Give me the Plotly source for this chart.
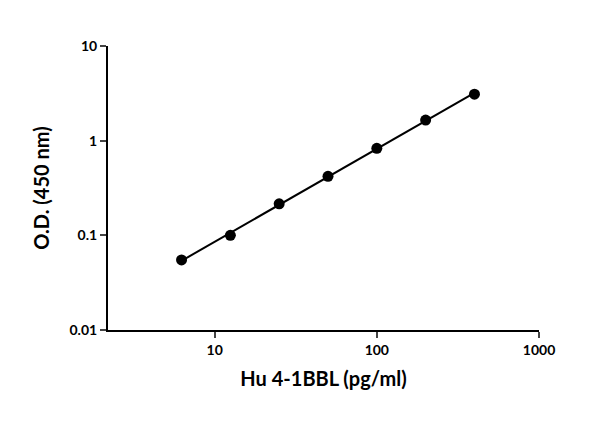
import numpy as np
import plotly.graph_objects as go

conc = [6.25, 12.5, 25, 50, 100, 200, 400]
od = [0.055, 0.10, 0.215, 0.42, 0.83, 1.65, 3.1]
x_ticks = [10, 100, 1000]
y_ticks = [0.01, 0.1, 1, 10]

# fitted straight line on log-log scale
k, b = np.polyfit(np.log10(conc), np.log10(od), 1)
fit_x = np.array([conc[0], conc[-1]])
fit_y = 10 ** (k * np.log10(fit_x) + b)

fig = go.Figure()
fig.add_trace(go.Scatter(x=fit_x, y=fit_y, mode="lines",
                         line=dict(color="black", width=2), showlegend=False))
fig.add_trace(go.Scatter(x=conc, y=od, mode="markers",
                         marker=dict(color="black", size=11), showlegend=False))

axis_font = dict(family="Lato", size=14, color="black")
fig.update_layout(
    width=600, height=421,
    margin=dict(l=100, r=69, t=38, b=99),
    plot_bgcolor="white", paper_bgcolor="white",
    font=dict(family="Lato", color="black"),
)
fig.update_xaxes(
    type="log", range=[np.log10(2.2), 3], tickvals=x_ticks,
    ticktext=["<b>%d</b>" % v for v in x_ticks],
    showline=True, linecolor="black", linewidth=2, ticks="outside",
    ticklen=6, tickwidth=2, showgrid=False, zeroline=False,
    tickfont=axis_font,
    title=dict(text="<b>Hu 4-1BBL (pg/ml)</b>", font=dict(family="Lato", size=20)),
)
fig.update_yaxes(
    type="log", range=[-2, 1], tickvals=y_ticks,
    ticktext=["<b>%s</b>" % t for t in ["0.01", "0.1", "1", "10"]],
    showline=True, linecolor="black", linewidth=2, ticks="outside",
    ticklen=6, tickwidth=2, showgrid=False, zeroline=False,
    tickfont=axis_font,
    title=dict(text="<b>O.D. (450 nm)</b>", font=dict(family="Lato", size=20)),
)

fig.write_html("out.html")
